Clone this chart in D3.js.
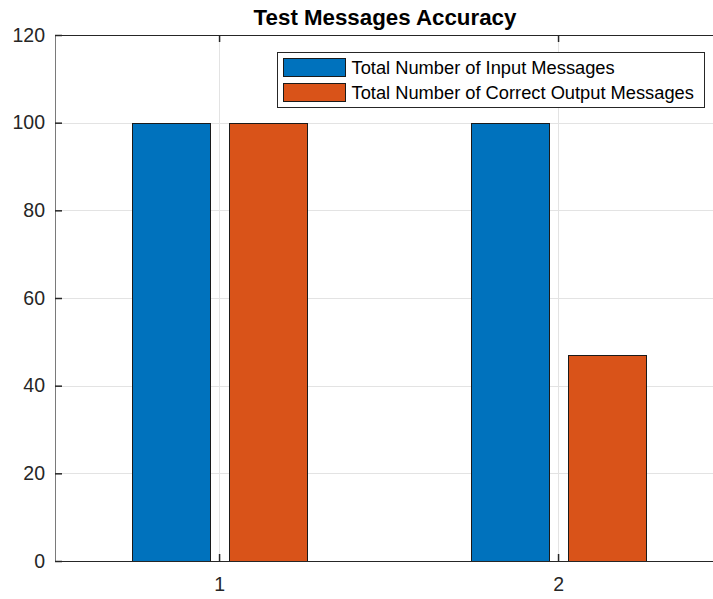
<!DOCTYPE html>
<html>
<head>
<meta charset="utf-8">
<script src="https://cdn.jsdelivr.net/npm/d3@7"></script>
<style>
    body { margin: 0; background: #fff; }
    svg { display: block; font-family: "Liberation Sans", Arial, sans-serif; }
</style>
</head>
<body>
<div id="chart"></div>
<script>
    // chart data
    var categories = [1, 2];
    var seriesNames = ['Total Number of Input Messages', 'Total Number of Correct Output Messages'];
    var inputMessages = [100, 100];
    var correctOutput = [100, 47];
    var yTicks = [0, 20, 40, 60, 80, 100, 120];
    var seriesColors = ['#0072BD', '#D95319'];

    var svgWidth = 713, svgHeight = 599;
    var margin = { top: 35, right: -2, bottom: 38, left: 55 };
    var chartWidth = svgWidth - margin.left - margin.right;
    var chartHeight = svgHeight - margin.top - margin.bottom;

    var svg = d3.select('#chart').append('svg')
        .attr('width', svgWidth)
        .attr('height', svgHeight);

    var g = svg.append('g')
        .attr('transform', 'translate(' + margin.left + ',' + margin.top + ')');

    //x 軸 (數值型，跟 MATLAB 一樣)
    var xScale = d3.scaleLinear()
        .domain([0.516, 2.463])
        .range([0, chartWidth]);

    var yScale = d3.scaleLinear()
        .domain([0, 120])
        .range([chartHeight, 0]);

    var barWidth = xScale(1.229) - xScale(1);
    var offset = xScale(1.1425) - xScale(1);

    //grid
    g.append('g').selectAll('line.gy')
        .data(yTicks.slice(1))
        .enter().append('line')
        .attr('x1', 0).attr('x2', chartWidth)
        .attr('y1', function (d) { return Math.round(yScale(d)) + 0.5; })
        .attr('y2', function (d) { return Math.round(yScale(d)) + 0.5; })
        .attr('stroke', '#e3e3e3');

    g.append('g').selectAll('line.gx')
        .data(categories)
        .enter().append('line')
        .attr('x1', function (d) { return Math.round(xScale(d)) + 0.5; })
        .attr('x2', function (d) { return Math.round(xScale(d)) + 0.5; })
        .attr('y1', 0).attr('y2', chartHeight)
        .attr('stroke', '#e3e3e3');

    //bars
    var dataset = categories.map(function (c, i) {
        return [
            { cat: c, s: 0, value: inputMessages[i] },
            { cat: c, s: 1, value: correctOutput[i] }
        ];
    });
    var flat = [].concat.apply([], dataset);

    g.append('g').selectAll('rect')
        .data(flat)
        .enter().append('rect')
        .attr('x', function (d) {
            return Math.round(xScale(d.cat) + (d.s === 0 ? -offset : offset) - barWidth / 2) + 0.5;
        })
        .attr('y', function (d) { return Math.round(yScale(d.value)) + 0.5; })
        .attr('width', Math.round(barWidth))
        .attr('height', function (d) { return Math.round(chartHeight - yScale(d.value)); })
        .attr('fill', function (d) { return seriesColors[d.s]; })
        .attr('stroke', '#1a1a1a')
        .attr('stroke-width', 1);

    //axes
    var axisColor = '#262626';
    var yAxis = g.append('g')
        .call(d3.axisLeft(yScale).tickValues(yTicks).tickSizeInner(-7).tickSizeOuter(0).tickPadding(10));
    var xAxis = g.append('g')
        .attr('transform', 'translate(0,' + chartHeight + ')')
        .call(d3.axisBottom(xScale).tickValues(categories).tickFormat(d3.format('d'))
            .tickSizeInner(-7).tickSizeOuter(0).tickPadding(16));
    var xTop = g.append('g')
        .call(d3.axisTop(xScale).tickValues(categories).tickSizeInner(-7).tickSizeOuter(0).tickFormat(''));

    [yAxis, xAxis, xTop].forEach(function (a) {
        a.attr('font-size', null).attr('font-family', null);
        a.select('.domain').attr('stroke', axisColor);
        a.selectAll('.tick line').attr('stroke', axisColor).attr('stroke-width', 1.5);
        a.selectAll('.tick text')
            .attr('fill', axisColor)
            .style('font-size', '19.5px');
    });
    yAxis.select('.domain').attr('stroke', '#7a7a7a');

    //title
    svg.append('text')
        .attr('x', margin.left + chartWidth / 2)
        .attr('y', 25)
        .attr('text-anchor', 'middle')
        .attr('font-weight', 'bold')
        .attr('font-size', '22.3px')
        .attr('fill', '#000')
        .text('Test Messages Accuracy');

    //legend
    var legend = svg.append('g').attr('transform', 'translate(277.5,52.5)');
    legend.append('rect')
        .attr('width', 427).attr('height', 55)
        .attr('fill', '#fff').attr('stroke', axisColor);

    var items = legend.selectAll('g.item')
        .data(seriesNames)
        .enter().append('g')
        .attr('transform', function (d, i) { return 'translate(6,' + (6 + i * 25) + ')'; });
    items.append('rect')
        .attr('width', 62).attr('height', 18)
        .attr('fill', function (d, i) { return seriesColors[i]; })
        .attr('stroke', '#1a1a1a');
    items.append('text')
        .attr('x', 68).attr('y', 15)
        .attr('font-size', '18.3px')
        .attr('fill', '#000')
        .text(function (d) { return d; });
</script>
</body>
</html>
